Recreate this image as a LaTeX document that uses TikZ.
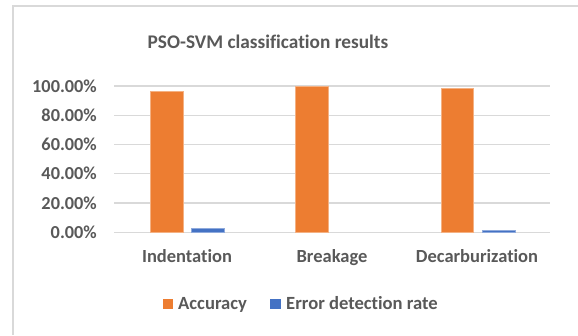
\documentclass[tikz,border=0pt]{standalone}
\usepackage{fontspec}
\setmainfont[Ligatures={NoCommon}]{Carlito}
\definecolor{txt}{HTML}{595959}
\definecolor{grid}{HTML}{D9D9D9}
\definecolor{acc}{HTML}{ED7D31}
\definecolor{err}{HTML}{4472C4}
\tikzset{
  gridline/.style={draw=grid, line width=1.3pt},
  tick/.style={text=txt, font=\bfseries\fontsize{18.3}{20}\selectfont, anchor=base east, inner sep=0pt},
  cat/.style={text=txt, font=\bfseries\fontsize{18.5}{20}\selectfont, anchor=base, inner sep=0pt},
  accbar/.style={fill=acc, draw=acc!60!white, line width=0.4pt},
  errbar/.style={fill=err, draw=err!60!white, line width=0.4pt},
  legtxt/.style={text=txt, font=\bfseries\fontsize{18.6}{20}\selectfont, anchor=base west, inner sep=0pt},
}
\begin{document}
\begin{tikzpicture}[x=1pt,y=-1pt]
\useasboundingbox (0,0) rectangle (578,335);
\fill[white] (0,0) rectangle (578,335);
% chart frame (top and left visible)
\draw[draw=grid, line width=1.3pt] (13,335) -- (13,6) -- (578,6);
% title
\node[text=txt, font=\bfseries\fontsize{19.3}{22}\selectfont, inner sep=0pt, anchor=base] (title) at (268,48.5) {PSO-SVM classification results};
% gridlines and ticks
\foreach \v/\lab [count=\i] in {0/0.00\%,20/20.00\%,40/40.00\%,60/60.00\%,80/80.00\%,100/100.00\%}{
  \draw[gridline] (114,{232.3-1.463*\v}) -- (550,{232.3-1.463*\v});
  \node[tick] (t\i) at (97,{238.3-1.463*\v}) {\lab};
}
% bars
\fill[accbar] (150,232.3) rectangle (183,{232.3-1.463*96.6});
\fill[errbar] (191,232.3) rectangle (224,{232.3-1.463*2.6});
\fill[accbar] (295,232.3) rectangle (328,{232.3-1.463*100});
\fill[accbar] (441,232.3) rectangle (473.5,{232.3-1.463*98.4});
\fill[errbar] (482,232.3) rectangle (515,{232.3-1.463*1.5});
% category labels
\node[cat] (c1) at (187,262.7) {Indentation};
\node[cat] (c2) at (332,262.7) {Breakage};
\node[cat] (c3) at (477,262.7) {Decarburization};
% legend
\fill[acc] (163,299) rectangle (173,309);
\node[legtxt] (l1) at (178,309.5) {Accuracy};
\fill[err] (270,299) rectangle (280.5,309);
\node[legtxt] (l2) at (286,309.5) {Error detection rate};
\end{tikzpicture}
\end{document}
